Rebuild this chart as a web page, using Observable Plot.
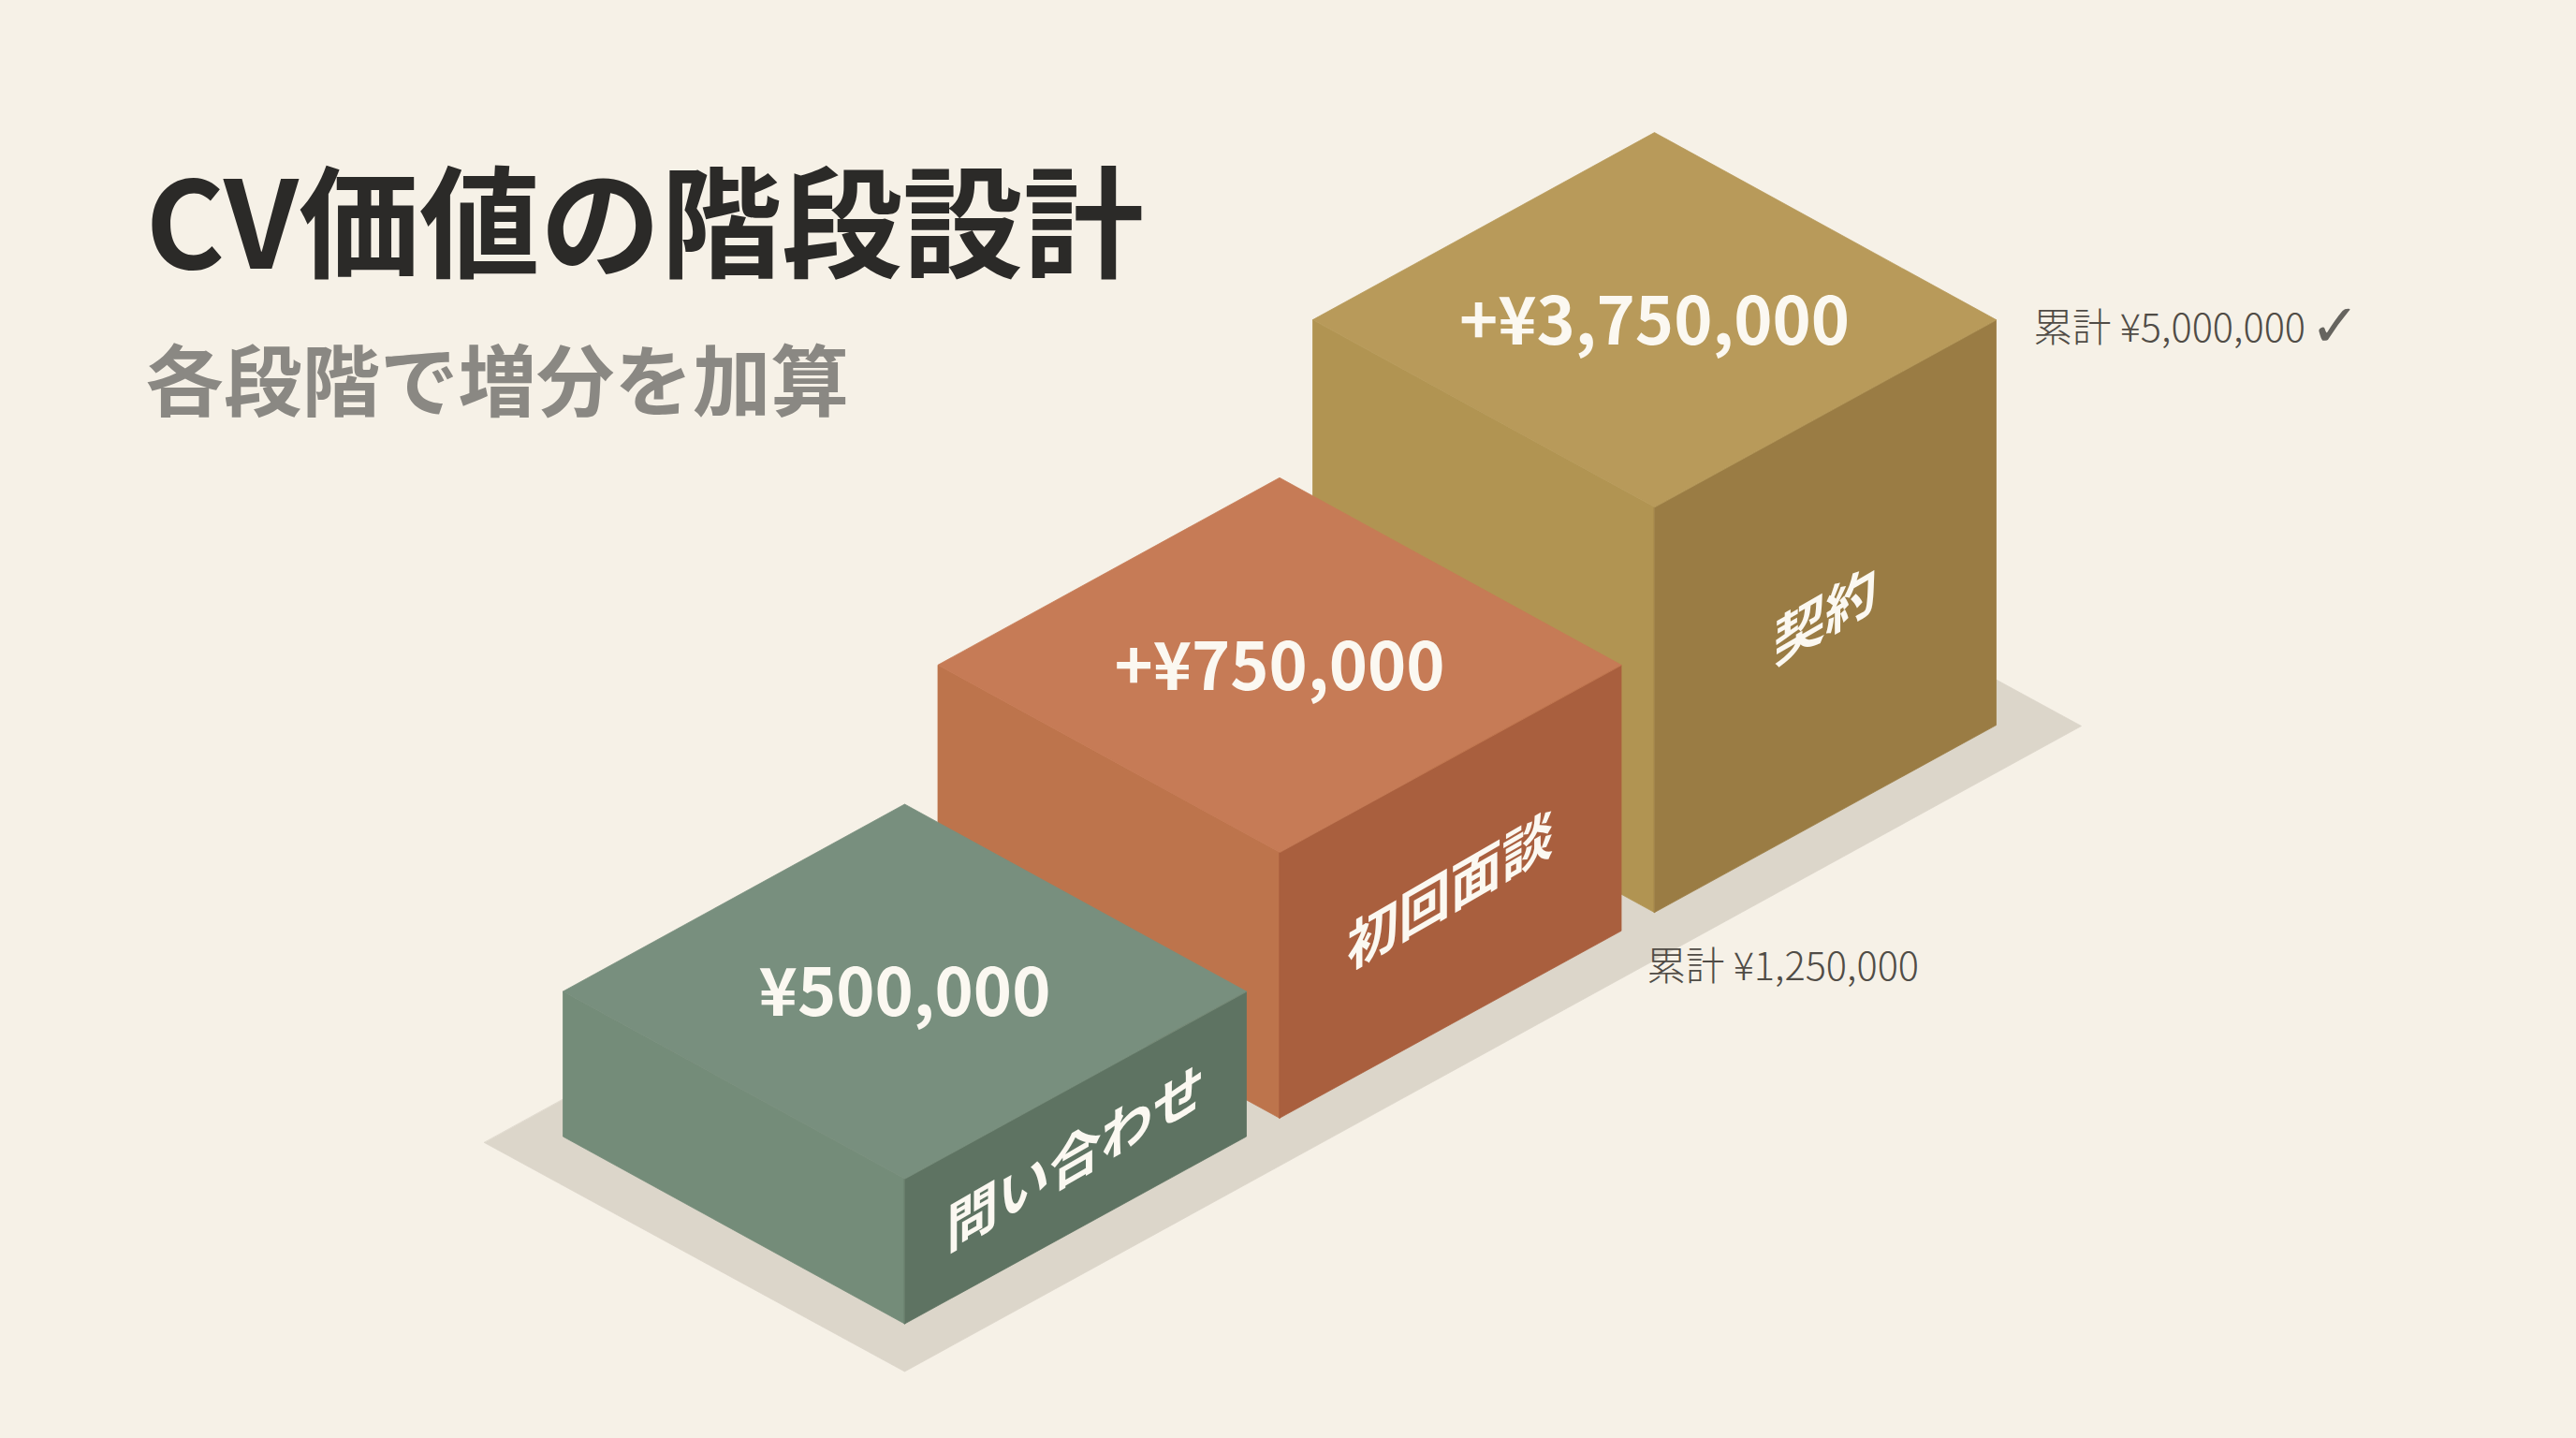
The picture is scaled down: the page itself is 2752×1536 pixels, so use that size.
<!DOCTYPE html>
<html lang="ja">
<head>
<meta charset="utf-8">
<title>CV価値の階段設計</title>
<script src="https://cdn.jsdelivr.net/npm/d3@7"></script>
<script src="https://cdn.jsdelivr.net/npm/@observablehq/plot@0.6"></script>
<style>
  html, body { margin: 0; padding: 0; background: #f6f1e7; }
  svg { display: block; }
</style>
</head>
<body>
<div id="chart"></div>
<script>
const titleText = "CV価値の階段設計";
const subtitleText = "各段階で増分を加算";
const stages = ["問い合わせ", "初回面談", "契約"];
const increments = [500000, 750000, 3750000];
const amountLabels = ["¥500,000", "+¥750,000", "+¥3,750,000"];
const cumulativeLabels = ["累計 ¥1,250,000", "累計 ¥5,000,000"];
const blockRise = [155, 284, 433];
const topColors = ["#788f7e", "#c67b56", "#b89a5a"];
const leftColors = ["#748c79", "#bd744c", "#b19452"];
const rightColors = ["#5e7362", "#a95f3e", "#9a7c44"];

const W = 2752, H = 1536;
const halfW = 365, halfD = 200;
const front = i => [966 + 400.5 * i, 1413.5 - 219.7 * i];

const faces = [];
const addFace = (id, color, pts) => pts.forEach(([x, y]) => faces.push({id, color, x, y}));

// ground shadow
addFace("shadow", "#dcd6ca", [[517, 1220], [966, 1464.5], [2223, 775], [1774, 530.5]]);

// blocks, drawn from back to front
for (const i of [2, 1, 0]) {
  const [fx, fy] = front(i);
  const h = blockRise[i];
  addFace(`left${i}`, leftColors[i], [[fx, fy], [fx - halfW, fy - halfD], [fx - halfW, fy - halfD - h], [fx, fy - h]]);
  addFace(`right${i}`, rightColors[i], [[fx, fy], [fx + halfW, fy - halfD], [fx + halfW, fy - halfD - h], [fx, fy - h]]);
  addFace(`top${i}`, topColors[i], [[fx, fy - h], [fx - halfW, fy - halfD - h], [fx, fy - 2 * halfD - h], [fx + halfW, fy - halfD - h]]);
}

const amounts = stages.map((s, i) => {
  const [fx, fy] = front(i);
  return {text: amountLabels[i], value: increments[i], x: fx, y: fy - halfD - blockRise[i] + 4};
});
const sideLabels = stages.map((s, i) => {
  const [fx, fy] = front(i);
  return {text: s, x: fx + halfW / 2, y: fy - halfD / 2 - blockRise[i] / 2 + 2};
});
const cumulative = [
  {text: cumulativeLabels[0], x: 1759, y: 1033},
  {text: cumulativeLabels[1], x: 2172, y: 351}
];

const font = '"Noto Sans CJK JP", "Noto Sans", sans-serif';
const shear = -halfD / halfW;

const chart = Plot.plot({
  width: W, height: H,
  margin: 0,
  x: {domain: [0, W], range: [0, W], axis: null},
  y: {domain: [0, H], range: [0, H], axis: null},
  color: {type: "identity"},
  style: {background: "#f6f1e7", fontFamily: font},
  marks: [
    Plot.line(faces, {x: "x", y: "y", z: "id", fill: "color", stroke: "color", strokeWidth: 0.8, curve: "linear-closed"}),
    Plot.text(amounts, {x: "x", y: "y", text: "text", fill: "#fbf8f1", fontSize: 70, fontWeight: 700, fontFamily: font}),
    Plot.text(sideLabels, {
      x: "x", y: "y", text: "text", fill: "#fbf8f1", fontSize: 58, fontWeight: 700, fontFamily: font,
      render(index, scales, values, dimensions, context, next) {
        const g = next(index, scales, values, dimensions, context);
        g.querySelectorAll("text").forEach(t => {
          t.setAttribute("transform", `${t.getAttribute("transform") || ""} matrix(0.95,${shear},0,1,0,0)`);
        });
        return g;
      }
    }),
    Plot.text(cumulative, {x: "x", y: "y", text: "text", textAnchor: "start", fill: "#504c46", fontSize: 41.5, fontWeight: 300, fontFamily: font}),
    Plot.text(["✓"], {x: () => 2494, y: () => 349, text: d => d, fill: "#66645f", fontSize: 64, fontFamily: '"DejaVu Sans", sans-serif'}),
    Plot.text([titleText], {x: () => 155, y: () => 245, text: d => d, textAnchor: "start", fill: "#2b2a28", fontSize: 129, fontWeight: 700, fontFamily: font}),
    Plot.text([subtitleText], {x: () => 155, y: () => 411, text: d => d, textAnchor: "start", fill: "#8a8883", fontSize: 83.5, fontWeight: 700, fontFamily: font})
  ]
});
document.getElementById("chart").append(chart);
</script>
</body>
</html>
